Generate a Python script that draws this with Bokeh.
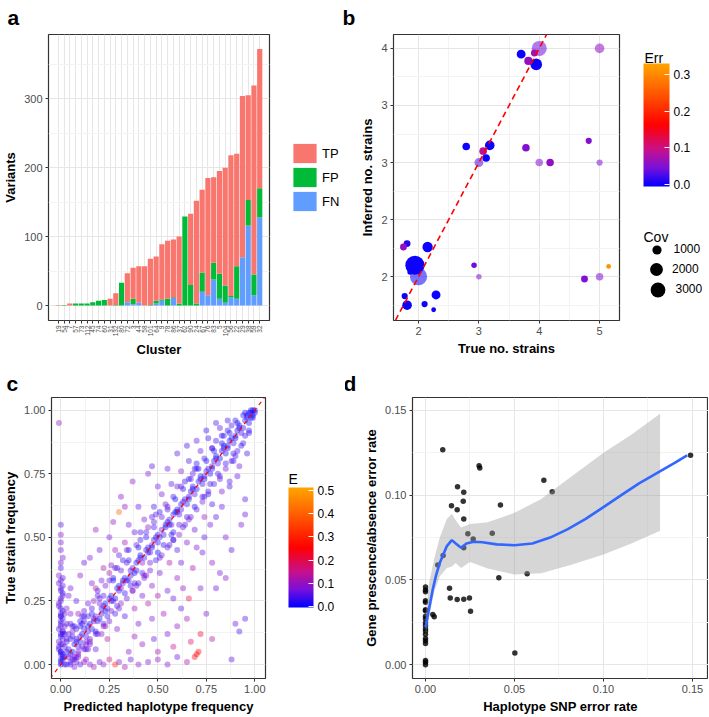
import math
from bokeh.plotting import figure
from bokeh.models import (FactorRange, Range1d, FixedTicker, Legend, LegendItem, ColorBar,
                          LinearColorMapper, PrintfTickFormatter, Label, Slope, ColumnDataSource)
from bokeh.layouts import row, column
from bokeh.embed import file_html
from bokeh.resources import INLINE

FONT = "Liberation Sans"
NAN = float("nan")

# ---------------- Panel a data ----------------
clusters = ["19", "54", "7", "57", "73", "112", "45", "74", "60", "31", "132", "80", "72", "3",
            "44", "58", "101", "64", "9", "78", "86", "37", "62", "90", "24", "67", "76", "83",
            "5", "104", "56", "22", "29", "38", "59", "32"]
fn_vals = [0, 0, 0, 0, 0, 0, 0, 0, 0, 0, 0, 0, 5, 2, 4, 0, 0, 3, 7, 0, 11, 0, 0, 0, 0, 20,
           15, 38, 10, 4, 12, 10, 70, 116, 15, 128]
fp_vals = [0, 1, 0, 3, 3, 3, 5, 7, 8, 0, 1, 33, 0, 8, 0, 0, 1, 4, 2, 10, 1, 3, 129, 30, 3, 28,
           0, 24, 36, 25, 2, 47, 0, 37, 30, 42]
tp_vals = [1, 0, 3, 0, 0, 0, 0, 0, 0, 10, 17, 0, 42, 45, 53, 57, 67, 64, 80, 84, 84, 97, 0, 103,
           149, 120, 170, 124, 149, 171, 204, 163, 234, 152, 274, 202]
a_labels = ["TP", "FP", "FN"]

# ---------------- Panel b data ----------------
b_true = [4.0, 3.70, 3.82, 3.95, 3.92, 5.0, 3.18, 2.79, 3.07, 3.12, 3.0, 3.78, 4.0, 4.18, 4.82,
          5.0, 1.94, 2.0, 2.15, 1.81, 1.75, 1.86, 1.77, 1.81, 2.10, 2.29, 2.25, 2.92, 3.0, 4.75,
          5.0, 5.15]
b_inferred = [4.0, 3.95, 3.89, 3.86, 3.96, 4.0, 3.15, 3.14, 3.10, 3.04, 3.0, 3.13, 3.0, 3.0,
              3.19, 3.0, 2.10, 2.0, 2.26, 2.29, 2.26, 2.04, 1.83, 1.75, 1.76, 1.84, 1.71, 2.10,
              2.0, 1.98, 2.0, 2.09]
b_err = [0.04, 0.0, 0.06, 0.0, 0.07, 0.06, 0.0, 0.0, 0.09, 0.0, 0.03, 0.05, 0.05, 0.06, 0.05,
         0.05, 0.0, 0.0, 0.0, 0.01, 0.06, 0.0, 0.0, 0.0, 0.0, 0.0, 0.0, 0.04, 0.05, 0.05, 0.05,
         0.31]
b_cov = [2900, 1015, 865, 1740, 600, 1180, 1180, 730, 730, 730, 1015, 730, 730, 730, 487, 487,
         4700, 3750, 1350, 600, 600, 385, 487, 1180, 487, 1015, 295, 385, 385, 600, 730, 295]
b_y_ticks = [2, 2.5, 3, 3.5, 4]
b_y_tick_labels = ["2", "2", "3", "3", "4"]
cov_legend = [1000, 2000, 3000]

# ---------------- Panel c data ----------------
g1_x = [0.02, 0.05, 0.07, 0.09, 0.11, 0.13, 0.15, 0.16, 0.18, 0.20,
        0.22, 0.24, 0.26, 0.27, 0.29, 0.31, 0.33, 0.35, 0.37, 0.38,
        0.40, 0.42, 0.44, 0.46, 0.48, 0.50, 0.52, 0.53, 0.55, 0.57,
        0.59, 0.61, 0.63, 0.65, 0.67, 0.69, 0.71, 0.73, 0.75, 0.77,
        0.79, 0.81, 0.83, 0.85, 0.87, 0.89, 0.91, 0.93, 0.95, 0.97,
        0.98, 0.99, 1.00, 0.99, 0.97]
g1_y = [0.03, 0.04, 0.08, 0.07, 0.12, 0.11, 0.16, 0.14, 0.19, 0.18,
        0.23, 0.22, 0.27, 0.25, 0.30, 0.30, 0.34, 0.33, 0.38, 0.36,
        0.41, 0.40, 0.45, 0.44, 0.49, 0.48, 0.53, 0.51, 0.56, 0.55,
        0.60, 0.59, 0.64, 0.63, 0.68, 0.67, 0.72, 0.71, 0.76, 0.75,
        0.80, 0.79, 0.84, 0.83, 0.88, 0.87, 0.92, 0.91, 0.96, 0.95,
        0.99, 0.97, 1.00, 0.98, 0.99]
g1_e = [0.02, 0.03, 0.01, 0.04, 0.02, 0.05, 0.01, 0.03, 0.06, 0.02,
        0.04, 0.08, 0.02, 0.05, 0.03, 0.07, 0.02, 0.04, 0.06, 0.01,
        0.03, 0.09, 0.02, 0.05, 0.04, 0.02, 0.06, 0.03, 0.01, 0.05,
        0.02, 0.04, 0.07, 0.03, 0.01, 0.05, 0.02, 0.03, 0.04, 0.01,
        0.02, 0.06, 0.03, 0.01, 0.02, 0.04, 0.01, 0.03, 0.02, 0.01,
        0.01, 0.02, 0.00, 0.01, 0.02]
g2_x = [0.04, 0.08, 0.10, 0.14, 0.17, 0.21, 0.23, 0.26, 0.30, 0.32,
        0.36, 0.39, 0.41, 0.45, 0.47, 0.50, 0.54, 0.56, 0.60, 0.62,
        0.66, 0.68, 0.72, 0.74, 0.78, 0.80, 0.84, 0.86, 0.90, 0.92,
        0.96]
g2_y = [0.06, 0.10, 0.11, 0.15, 0.17, 0.20, 0.24, 0.25, 0.31, 0.32,
        0.35, 0.40, 0.42, 0.44, 0.47, 0.51, 0.54, 0.57, 0.60, 0.61,
        0.66, 0.70, 0.73, 0.74, 0.78, 0.81, 0.85, 0.86, 0.90, 0.93,
        0.97]
g2_e = [0.03, 0.01, 0.05, 0.02, 0.07, 0.03, 0.01, 0.04, 0.02, 0.06,
        0.03, 0.01, 0.05, 0.02, 0.08, 0.03, 0.01, 0.04, 0.02, 0.05,
        0.01, 0.03, 0.02, 0.04, 0.01, 0.03, 0.02, 0.01, 0.02, 0.01,
        0.01]
g3_x = [0.03, 0.06, 0.10, 0.12, 0.17, 0.19, 0.23, 0.25, 0.28, 0.32,
        0.34, 0.39, 0.41, 0.45, 0.47, 0.51, 0.54, 0.58, 0.60, 0.64,
        0.68, 0.70, 0.74, 0.78, 0.80, 0.84, 0.88, 0.90, 0.94]
g3_y = [0.09, 0.13, 0.17, 0.21, 0.25, 0.29, 0.31, 0.36, 0.38, 0.41,
        0.45, 0.47, 0.52, 0.54, 0.58, 0.60, 0.63, 0.66, 0.70, 0.72,
        0.75, 0.79, 0.81, 0.85, 0.88, 0.90, 0.94, 0.96, 0.98]
g3_e = [0.05, 0.08, 0.03, 0.06, 0.10, 0.04, 0.07, 0.12, 0.05, 0.03,
        0.08, 0.06, 0.04, 0.09, 0.05, 0.03, 0.07, 0.04, 0.06, 0.03,
        0.05, 0.02, 0.04, 0.06, 0.03, 0.02, 0.04, 0.03, 0.02]
g4_x = [0.08, 0.12, 0.15, 0.19, 0.22, 0.25, 0.28, 0.31, 0.34, 0.37,
        0.40, 0.43, 0.46, 0.49, 0.52, 0.55, 0.58, 0.61, 0.64, 0.67,
        0.70, 0.73, 0.76, 0.79, 0.82, 0.85, 0.88, 0.91, 0.94, 0.97]
g4_y = [0.03, 0.06, 0.09, 0.12, 0.15, 0.17, 0.20, 0.24, 0.26, 0.29,
        0.32, 0.35, 0.37, 0.41, 0.43, 0.46, 0.49, 0.51, 0.55, 0.58,
        0.61, 0.64, 0.67, 0.71, 0.74, 0.77, 0.80, 0.84, 0.87, 0.91]
g4_e = [0.06, 0.04, 0.09, 0.05, 0.12, 0.07, 0.04, 0.10, 0.06, 0.08,
        0.05, 0.11, 0.07, 0.04, 0.09, 0.06, 0.05, 0.08, 0.04, 0.06,
        0.05, 0.07, 0.03, 0.05, 0.04, 0.06, 0.03, 0.04, 0.05, 0.03]
g5_x = [0.02, 0.05, 0.09, 0.14, 0.18, 0.21, 0.26, 0.30, 0.33, 0.38,
        0.43, 0.48, 0.52, 0.57, 0.62, 0.66, 0.72, 0.76, 0.82, 0.86,
        0.13, 0.18, 0.24, 0.29, 0.33, 0.38, 0.42, 0.47, 0.51, 0.56,
        0.60, 0.65, 0.69, 0.74, 0.78, 0.83, 0.87, 0.92, 0.96]
g5_y = [0.12, 0.16, 0.20, 0.24, 0.30, 0.33, 0.39, 0.43, 0.48, 0.52,
        0.57, 0.62, 0.67, 0.71, 0.76, 0.80, 0.84, 0.89, 0.93, 0.96,
        0.02, 0.06, 0.10, 0.14, 0.19, 0.22, 0.27, 0.31, 0.36, 0.40,
        0.45, 0.48, 0.53, 0.58, 0.63, 0.68, 0.72, 0.78, 0.83]
g5_e = [0.08, 0.05, 0.10, 0.06, 0.12, 0.07, 0.09, 0.05, 0.11, 0.06,
        0.08, 0.04, 0.07, 0.05, 0.09, 0.04, 0.06, 0.03, 0.05, 0.04,
        0.10, 0.06, 0.13, 0.08, 0.05, 0.11, 0.07, 0.09, 0.06, 0.12,
        0.05, 0.08, 0.06, 0.10, 0.04, 0.07, 0.05, 0.06, 0.04]
g6_x = [0.00, 0.00, 0.01, -0.01, 0.00, 0.01, 0.00, -0.01, 0.00, 0.01,
        0.00, 0.00, -0.01, 0.00, 0.01, 0.00, 0.00, -0.01, 0.00, 0.01,
        0.00, 0.00, 0.00, -0.01, 0.02, 0.02, 0.03, 0.01, 0.04,
        0.00, 0.01, 0.00, -0.01, 0.00, 0.01, 0.00, 0.00, 0.01, 0.00]
g6_y = [0.00, 0.02, 0.04, 0.06, 0.08, 0.10, 0.12, 0.14, 0.16, 0.18,
        0.20, 0.22, 0.24, 0.26, 0.28, 0.30, 0.33, 0.35, 0.38, 0.42,
        0.45, 0.51, 0.55, 0.95, 0.07, 0.15, 0.22, 0.31, 0.27,
        0.01, 0.03, 0.05, 0.09, 0.11, 0.13, 0.17, 0.19, 0.21, 0.25]
g6_e = [0.01, 0.03, 0.02, 0.05, 0.03, 0.07, 0.02, 0.04, 0.06, 0.03,
        0.05, 0.02, 0.08, 0.04, 0.03, 0.06, 0.05, 0.09, 0.04, 0.07,
        0.06, 0.08, 0.05, 0.10, 0.04, 0.06, 0.08, 0.05, 0.07,
        0.02, 0.04, 0.03, 0.06, 0.02, 0.05, 0.03, 0.07, 0.04, 0.05]
g7_x = [0.03, 0.05, 0.07, 0.10, 0.12, 0.15, 0.17, 0.20, 0.22, 0.25,
        0.28, 0.30, 0.33, 0.36, 0.40, 0.45, 0.50, 0.55, 0.60, 0.65,
        0.88]
g7_y = [0.00, 0.01, -0.01, 0.00, 0.01, 0.00, -0.01, 0.01, 0.00, 0.02,
        0.00, 0.01, -0.01, 0.02, 0.00, 0.01, 0.02, 0.00, 0.03, 0.01,
        0.02]
g7_e = [0.04, 0.06, 0.08, 0.05, 0.10, 0.07, 0.12, 0.06, 0.09, 0.15,
        0.30, 0.08, 0.11, 0.06, 0.09, 0.07, 0.10, 0.08, 0.06, 0.12,
        0.05]
g8_x = [0.35, 0.42, 0.48, 0.50, 0.55, 0.58, 0.60, 0.62, 0.65, 0.67,
        0.70, 0.71, 0.69, 0.72, 0.75, 0.78, 0.80, 0.82, 0.85, 0.88,
        0.90, 0.92, 0.95, 0.93, 0.95, 0.95, 0.85, 0.78, 0.72, 0.68,
        0.63, 0.58, 0.53, 0.47, 0.45, 0.40, 0.38, 0.62, 0.70, 0.74,
        0.77, 0.83, 0.87, 0.91, 0.60, 0.55, 0.50, 0.66, 0.73, 0.80]
g8_y = [0.05, 0.08, 0.10, 0.05, 0.12, 0.07, 0.15, 0.22, 0.18, 0.09,
        0.04, 0.05, 0.03, 0.12, 0.20, 0.10, 0.30, 0.36, 0.34, 0.45,
        0.16, 0.13, 0.18, 0.55, 0.59, 0.65, 0.50, 0.40, 0.30, 0.38,
        0.30, 0.26, 0.20, 0.18, 0.24, 0.16, 0.11, 0.40, 0.46, 0.50,
        0.55, 0.62, 0.70, 0.74, 0.34, 0.29, 0.27, 0.26, 0.44, 0.58]
g8_e = [0.08, 0.10, 0.06, 0.12, 0.07, 0.15, 0.09, 0.05, 0.11, 0.18,
        0.25, 0.26, 0.24, 0.22, 0.08, 0.12, 0.06, 0.07, 0.09, 0.05,
        0.06, 0.04, 0.05, 0.07, 0.06, 0.05, 0.08, 0.10, 0.07, 0.12,
        0.09, 0.06, 0.11, 0.08, 0.13, 0.07, 0.10, 0.06, 0.08, 0.05,
        0.07, 0.06, 0.04, 0.05, 0.09, 0.07, 0.12, 0.20, 0.06, 0.05]
g9_x = [0.05, 0.08, 0.10, 0.12, 0.15, 0.18, 0.20, 0.22, 0.25, 0.27,
        0.30, 0.31, 0.33, 0.37, 0.35, 0.40, 0.45, 0.47, 0.50, 0.55,
        0.60, 0.65, 0.70, 0.75, 0.80, 0.28, 0.16]
g9_y = [0.30, 0.25, 0.35, 0.40, 0.42, 0.53, 0.45, 0.38, 0.50, 0.56,
        0.60, 0.66, 0.62, 0.72, 0.55, 0.62, 0.75, 0.78, 0.70, 0.77,
        0.83, 0.86, 0.88, 0.92, 0.95, 0.45, 0.32]
g9_e = [0.07, 0.05, 0.09, 0.06, 0.08, 0.10, 0.06, 0.12, 0.07, 0.09,
        0.40, 0.08, 0.10, 0.09, 0.07, 0.06, 0.08, 0.05, 0.07, 0.06,
        0.05, 0.04, 0.06, 0.03, 0.04, 0.11, 0.08]
g10_x = [0.01, 0.03, 0.06, 0.08, 0.10, 0.12, 0.14, 0.17, 0.19, 0.21,
         0.23, 0.25, 0.28, 0.30, 0.32, 0.34, 0.36, 0.39, 0.41, 0.43,
         0.45, 0.47, 0.49, 0.51, 0.54, 0.56, 0.58, 0.60, 0.62, 0.64,
         0.66, 0.68, 0.70, 0.72, 0.74, 0.76, 0.78, 0.80, 0.82, 0.84,
         0.86, 0.88, 0.90, 0.92, 0.94, 0.96, 0.98, 1.00, 0.99, 0.98]
g10_y = [0.02, 0.05, 0.05, 0.09, 0.09, 0.14, 0.13, 0.18, 0.17, 0.22,
         0.21, 0.26, 0.26, 0.29, 0.33, 0.33, 0.37, 0.37, 0.43, 0.42,
         0.46, 0.46, 0.50, 0.50, 0.55, 0.55, 0.59, 0.61, 0.63, 0.65,
         0.65, 0.69, 0.69, 0.74, 0.73, 0.77, 0.77, 0.82, 0.81, 0.86,
         0.85, 0.89, 0.89, 0.94, 0.93, 0.98, 0.97, 0.99, 1.00, 1.00]
g10_e = [0.01, 0.02, 0.00, 0.03, 0.01, 0.02, 0.04, 0.01, 0.02, 0.03,
         0.00, 0.02, 0.01, 0.03, 0.02, 0.01, 0.04, 0.02, 0.01, 0.03,
         0.02, 0.00, 0.01, 0.03, 0.02, 0.01, 0.02, 0.00, 0.03, 0.01,
         0.02, 0.01, 0.00, 0.02, 0.01, 0.03, 0.02, 0.01, 0.00, 0.02,
         0.01, 0.02, 0.00, 0.01, 0.02, 0.01, 0.00, 0.01, 0.00, 0.01]
g11_x = [0.00, 0.01, 0.02, 0.03, 0.04, 0.05, 0.06, 0.07, 0.08, 0.09,
         0.10, 0.11, 0.12, 0.13, 0.14, 0.15, 0.16, 0.18, 0.20, 0.22,
         0.01, 0.03, 0.05, 0.07, 0.09, 0.11, 0.13, 0.02, 0.04, 0.06]
g11_y = [0.05, 0.08, 0.00, 0.10, 0.03, 0.00, 0.11, 0.03, 0.14, 0.05,
         0.15, 0.07, 0.17, 0.09, 0.19, 0.10, 0.20, 0.12, 0.24, 0.16,
         0.13, 0.16, 0.20, 0.15, 0.04, 0.19, 0.06, 0.20, 0.12, 0.02]
g11_e = [0.03, 0.05, 0.02, 0.04, 0.06, 0.03, 0.05, 0.08, 0.04, 0.07,
         0.03, 0.06, 0.05, 0.09, 0.04, 0.06, 0.03, 0.05, 0.07, 0.04,
         0.06, 0.05, 0.08, 0.03, 0.10, 0.05, 0.07, 0.06, 0.04, 0.05]
g12_x = [0.00, -0.01, 0.01, 0.00, 0.00, -0.01, 0.01, 0.00, 0.01, 0.00,
         0.00, -0.01]
g12_y = [0.04, 0.07, 0.12, 0.15, 0.19, 0.23, 0.27, 0.29, 0.34, 0.40,
         0.48, 0.32]
g12_e = [0.02, 0.04, 0.03, 0.05, 0.02, 0.04, 0.06, 0.03, 0.05, 0.07,
         0.08, 0.06]
g13_x = [0.05, 0.07, 0.11, 0.13, 0.16, 0.18, 0.22, 0.24, 0.27, 0.29,
         0.31, 0.33, 0.35, 0.38, 0.40, 0.42, 0.44, 0.46, 0.48, 0.50,
         0.52, 0.53, 0.55, 0.57, 0.59, 0.61, 0.63, 0.65, 0.67, 0.69,
         0.71, 0.73, 0.75, 0.77, 0.79, 0.81, 0.83, 0.85, 0.87, 0.89,
         0.91, 0.93, 0.95, 0.97, 0.20, 0.26, 0.36, 0.44, 0.58, 0.66]
g13_y = [0.10, 0.02, 0.16, 0.08, 0.22, 0.13, 0.27, 0.19, 0.33, 0.23,
         0.37, 0.28, 0.41, 0.32, 0.46, 0.36, 0.50, 0.40, 0.54, 0.44,
         0.58, 0.47, 0.61, 0.51, 0.65, 0.55, 0.69, 0.58, 0.73, 0.62,
         0.77, 0.66, 0.80, 0.71, 0.84, 0.75, 0.87, 0.79, 0.91, 0.83,
         0.95, 0.86, 0.99, 0.92, 0.26, 0.21, 0.31, 0.52, 0.52, 0.73]
g13_e = [0.03, 0.05, 0.02, 0.06, 0.04, 0.02, 0.05, 0.03, 0.01, 0.04,
         0.06, 0.02, 0.03, 0.05, 0.01, 0.04, 0.02, 0.06, 0.03, 0.01,
         0.05, 0.02, 0.04, 0.03, 0.01, 0.05, 0.02, 0.04, 0.03, 0.01,
         0.02, 0.04, 0.01, 0.03, 0.02, 0.05, 0.01, 0.03, 0.02, 0.04,
         0.01, 0.02, 0.01, 0.02, 0.04, 0.06, 0.03, 0.05, 0.02, 0.04]
g14_x = [0.06, 0.09, 0.12, 0.15, 0.19, 0.23, 0.27, 0.30, 0.34, 0.37,
         0.41, 0.44, 0.48, 0.51, 0.55, 0.58, 0.62, 0.66, 0.70, 0.74,
         0.78, 0.82, 0.86, 0.90, 0.08, 0.14, 0.21, 0.29, 0.35, 0.43,
         0.49, 0.56, 0.63, 0.69, 0.76, 0.83, 0.89, 0.95, 0.25, 0.39]
g14_y = [0.15, 0.03, 0.19, 0.08, 0.27, 0.15, 0.34, 0.22, 0.40, 0.29,
         0.49, 0.35, 0.56, 0.42, 0.62, 0.49, 0.70, 0.57, 0.77, 0.66,
         0.85, 0.73, 0.92, 0.82, 0.01, 0.06, 0.12, 0.38, 0.45, 0.34,
         0.59, 0.47, 0.54, 0.77, 0.68, 0.90, 0.80, 0.90, 0.33, 0.31]
g14_e = [0.04, 0.07, 0.03, 0.06, 0.05, 0.08, 0.02, 0.06, 0.04, 0.09,
         0.03, 0.07, 0.05, 0.04, 0.06, 0.03, 0.05, 0.07, 0.02, 0.04,
         0.03, 0.05, 0.02, 0.03, 0.06, 0.05, 0.08, 0.04, 0.03, 0.07,
         0.05, 0.04, 0.06, 0.03, 0.05, 0.02, 0.04, 0.03, 0.06, 0.05]
c_pred = (g1_x + g2_x + g3_x + g4_x + g5_x + g6_x + g7_x + g8_x + g9_x + g10_x + g11_x
          + g12_x + g13_x + g14_x)
c_true = (g1_y + g2_y + g3_y + g4_y + g5_y + g6_y + g7_y + g8_y + g9_y + g10_y + g11_y
          + g12_y + g13_y + g14_y)
c_E = (g1_e + g2_e + g3_e + g4_e + g5_e + g6_e + g7_e + g8_e + g9_e + g10_e + g11_e
       + g12_e + g13_e + g14_e)

# ---------------- Panel d data ----------------
d_snp = [0.0097, 0.018, 0.0146, 0.0178, 0.0215, 0.0212, 0.0215, 0.0238, 0.0215, 0.0268,
         0.0301, 0.0305, 0.0375, 0.0421, 0.0412, 0.0571, 0.0502, 0.0665, 0.0712, 0.1489,
         0.0099, 0.0069, 0.0135, 0.0139, 0.0178, 0.0215, 0.0247, 0.0253, 0.0049, 0.0041,
         0.0, 0.0, 0.0, 0.0, 0.0, 0.0, 0.0, 0.0, 0.0, 0.0,
         0.0, 0.0, 0.0, 0.0, 0.0, 0.0, 0.0, 0.0, 0.0, 0.0]
d_gene = [0.1268, 0.105, 0.0937, 0.0914, 0.1018, 0.0964, 0.0859, 0.0772, 0.069, 0.0741,
          0.1173, 0.1161, 0.0776, 0.0942, 0.0513, 0.0536, 0.007, 0.1088, 0.102, 0.1235,
          0.0644, 0.0588, 0.0451, 0.0393, 0.0385, 0.0387, 0.0393, 0.0315, 0.0283, 0.0296,
          0.0459, 0.0441, 0.0430, 0.0377, 0.0368, 0.0325, 0.0319, 0.0286, 0.0271, 0.0248,
          0.0232, 0.0213, 0.0199, 0.0180, 0.0155, 0.0141, 0.0126, 0.0025, 0.0015, 0.0]
fit_x = [0.0, 0.002, 0.004, 0.006, 0.008, 0.010, 0.012, 0.0148, 0.017, 0.020, 0.023, 0.027,
         0.032, 0.04, 0.05, 0.06, 0.07, 0.08, 0.09, 0.10, 0.11, 0.12, 0.13, 0.14, 0.147]
fit_y = [0.022, 0.033, 0.044, 0.053, 0.060, 0.065, 0.070, 0.0735, 0.0715, 0.069, 0.0715,
         0.0725, 0.0722, 0.071, 0.0705, 0.0715, 0.075, 0.080, 0.086, 0.093, 0.100, 0.107,
         0.113, 0.119, 0.1235]
band_x = [0.0, 0.002, 0.005, 0.008, 0.012, 0.0148, 0.017, 0.020, 0.025, 0.035, 0.05, 0.065,
          0.082, 0.10, 0.116, 0.1318]
band_hi = [0.030, 0.048, 0.063, 0.075, 0.086, 0.089, 0.085, 0.081, 0.083, 0.084, 0.0896,
           0.0977, 0.111, 0.125, 0.136, 0.148]
band_lo = [0.016, 0.028, 0.0435, 0.052, 0.057, 0.058, 0.060, 0.057, 0.0606, 0.0567, 0.0532,
           0.054, 0.059, 0.065, 0.0716, 0.079]


# ---------------- helpers ----------------
def make_palette(stops, n=256):
    out = []
    for i in range(n):
        t = i / (n - 1)
        for (t0, c0), (t1, c1) in zip(stops[:-1], stops[1:]):
            if t0 <= t <= t1:
                f = (t - t0) / (t1 - t0)
                rgb = tuple(int(round(a + (b - a) * f)) for a, b in zip(c0, c1))
                out.append("#%02x%02x%02x" % rgb)
                break
    return out


PAL = make_palette([(0.0, (0, 0, 255)), (0.15, (122, 16, 218)), (0.30, (200, 16, 138)),
                    (0.5, (255, 0, 0)), (0.75, (255, 85, 0)), (1.0, (255, 165, 0))])


def style(p):
    p.background_fill_color = "white"
    p.border_fill_color = "white"
    p.outline_line_color = "#333333"
    p.outline_line_width = 1.2
    for ax in p.axis:
        ax.axis_line_color = None
        ax.major_tick_line_color = "#333333"
        ax.major_tick_out = 3
        ax.major_tick_in = 0
        ax.minor_tick_line_color = None
        ax.major_label_text_color = "#4D4D4D"
        ax.major_label_text_font_size = "11px"
        ax.major_label_text_font = FONT
        ax.major_label_standoff = 2
        ax.axis_label_text_font = FONT
        ax.axis_label_text_font_size = "13px"
        ax.axis_label_text_font_style = "bold"
        ax.axis_label_text_color = "black"
        ax.axis_label_standoff = 3
    for g in p.grid:
        g.grid_line_color = "#E6E6E6"
        g.minor_grid_line_color = "#F3F3F3"


def letter(p, text, offset, standoff):
    p.title.text = text
    p.title.align = "left"
    p.title.offset = offset
    p.title.vertical_align = "top"
    p.title.standoff = standoff
    p.title.text_font = FONT
    p.title.text_font_size = "21px"
    p.title.text_font_style = "bold"
    p.title.text_color = "black"


def legend_fig(width, height):
    f = figure(width=width, height=height, output_backend="svg", toolbar_location=None,
               x_axis_type=None, y_axis_type=None, min_border=0,
               x_range=Range1d(0, 1), y_range=Range1d(0, 1))
    f.outline_line_color = None
    f.background_fill_color = "white"
    f.border_fill_color = "white"
    f.grid.visible = False
    return f


def colorbar(mapper, ticks, loc, w, h):
    return ColorBar(color_mapper=mapper, location=loc, orientation="vertical", width=w, height=h,
                    padding=0, title=None,
                    ticker=FixedTicker(ticks=ticks), formatter=PrintfTickFormatter(format="%.1f"),
                    major_label_text_font=FONT, major_label_text_font_size="12px",
                    major_label_text_color="black", label_standoff=4,
                    major_tick_line_color="white", major_tick_in=5, major_tick_out=0,
                    minor_tick_line_color=None, bar_line_color=None, border_line_color=None,
                    background_fill_alpha=0)


def title_label(text, x, y):
    return Label(x=x, y=y, x_units="screen", y_units="screen", text=text, text_font=FONT,
                 text_font_size="14px", text_color="black", text_baseline="alphabetic")


# ---------------- Panel a ----------------
pa = figure(width=279, height=360, output_backend="svg", toolbar_location=None, title="a",
            x_range=FactorRange(factors=clusters, range_padding=1.2, range_padding_units="absolute"),
            y_range=Range1d(-21.6, 393),
            min_border_left=46, min_border_right=10, min_border_top=34, min_border_bottom=39)
src_a = ColumnDataSource(dict(cluster=clusters, FN=fn_vals, FP=fp_vals, TP=tp_vals))
pa.vbar_stack(["FN", "FP", "TP"], x="cluster", width=0.9, source=src_a,
              fill_color=["#619CFF", "#00BA38", "#F8766D"], line_color=None)
style(pa)
pa.yaxis.ticker = FixedTicker(ticks=[0, 100, 200, 300], minor_ticks=[50, 150, 250, 350])
pa.xaxis.major_label_orientation = math.pi / 2
pa.xaxis.major_label_text_font_size = "6.5px"
pa.xaxis.axis_label = "Cluster"
pa.yaxis.axis_label = "Variants"
letter(pa, "a", -41, 8)

# legend of panel a (own canvas; its frame is aligned with the row: y 34..321)
pla = legend_fig(61, 360)
a_items = []
for lab, col in zip(a_labels, ["#F8766D", "#00BA38", "#619CFF"]):
    r = pla.vbar(x=[NAN], top=[NAN], width=0.9, fill_color=col, line_color=None)
    a_items.append(LegendItem(label=lab, renderers=[r]))
pla.add_layout(Legend(items=a_items, location=(11, 107), glyph_width=29, glyph_height=24,
                      label_height=24, spacing=0, padding=0, margin=0, label_standoff=3,
                      border_line_color=None, background_fill_alpha=0, label_text_font=FONT,
                      label_text_font_size="13px", label_text_color="black"))

# ---------------- Panel b ----------------
pb = figure(width=300, height=360, output_backend="svg", toolbar_location=None, title="b",
            x_range=Range1d(1.585, 5.33), y_range=Range1d(1.616, 4.122),
            min_border_left=53, min_border_right=21, min_border_top=34, min_border_bottom=39)
mapper_b = LinearColorMapper(palette=PAL, low=-0.006, high=0.33)
b_alpha = [0.55 if (float(x).is_integer() and float(y).is_integer()) else 1.0
           for x, y in zip(b_true, b_inferred)]
src_b = ColumnDataSource(dict(x=b_true, y=b_inferred, err=b_err,
                              size=[0.28 * math.sqrt(c) for c in b_cov], alpha=b_alpha))
pb.scatter("x", "y", size="size", source=src_b, marker="circle",
           fill_color={"field": "err", "transform": mapper_b}, fill_alpha="alpha",
           line_color=None)
pb.add_layout(Slope(gradient=1, y_intercept=0, line_color="red", line_dash="6 4",
                    line_width=1.6))
style(pb)
pb.xaxis.ticker = FixedTicker(ticks=[2, 3, 4, 5], minor_ticks=[2.5, 3.5, 4.5])
pb.yaxis.ticker = FixedTicker(ticks=b_y_ticks, minor_ticks=[1.75, 2.25, 2.75, 3.25, 3.75])
pb.yaxis.major_label_overrides = {float(t): s for t, s in zip(b_y_ticks, b_y_tick_labels)}
pb.xaxis.axis_label = "True no. strains"
pb.yaxis.axis_label = "Inferred no. strains"
letter(pb, "b", -51, 8)

# legends of panel b (own canvas; frame y 34..321)
plb = legend_fig(68, 360)
plb.add_layout(colorbar(mapper_b, [0, 0.1, 0.2, 0.3], (3, 134), 26, 123))
plb.add_layout(title_label("Err", 4, 263))
plb.add_layout(title_label("Cov", 3, 84))
cov_glyph = [23, 32, 37]
cov_standoff = [6, 0, -2]
cov_loc = [(4.5, 59.5), (0, 35), (-1.5, 12.5)]
for i, cv in enumerate(cov_legend):
    r = plb.scatter(x=[NAN], y=[NAN], marker="circle", fill_color="black", line_color=None)
    plb.add_layout(Legend(items=[LegendItem(label=str(cv), renderers=[r])], location=cov_loc[i],
                          glyph_width=cov_glyph[i], glyph_height=cov_glyph[i],
                          label_height=cov_glyph[i], label_standoff=cov_standoff[i], padding=0,
                          margin=0, spacing=0, border_line_color=None, background_fill_alpha=0,
                          label_text_font=FONT, label_text_font_size="12px",
                          label_text_color="black"))

# ---------------- Panel c ----------------
pc = figure(width=275, height=356, output_backend="svg", toolbar_location=None, title="c",
            x_range=Range1d(-0.048, 1.055), y_range=Range1d(-0.055, 1.05),
            min_border_left=50, min_border_right=10, min_border_top=37, min_border_bottom=34)
mapper_c = LinearColorMapper(palette=PAL, low=-0.004, high=0.513)
src_c = ColumnDataSource(dict(x=c_pred, y=c_true, e=c_E))
pc.scatter("x", "y", source=src_c, marker="circle", size=6,
           fill_color={"field": "e", "transform": mapper_c}, fill_alpha=0.4, line_color=None)
pc.add_layout(Slope(gradient=1, y_intercept=0, line_color="red", line_dash="4 4",
                    line_width=1.2))
style(pc)
for ax in (pc.xaxis, pc.yaxis):
    ax.ticker = FixedTicker(ticks=[0, 0.25, 0.5, 0.75, 1.0],
                            minor_ticks=[0.125, 0.375, 0.625, 0.875])
    ax.formatter = PrintfTickFormatter(format="%.2f")
pc.xaxis.axis_label = "Predicted haplotype frequency"
pc.yaxis.axis_label = "True strain frequency"
letter(pc, "c", -45, 2)

# legend of panel c (own canvas; frame y 397..682)
plc = legend_fig(70, 356)
plc.add_layout(colorbar(mapper_c, [0, 0.1, 0.2, 0.3, 0.4, 0.5], (13, 71), 25, 120))
plc.add_layout(title_label("E", 13, 200))

# ---------------- Panel d ----------------
pd_ = figure(width=363, height=356, output_backend="svg", toolbar_location=None, title="d",
             x_range=Range1d(-0.0073, 0.159), y_range=Range1d(-0.0081, 0.1576),
             min_border_left=67, min_border_right=0, min_border_top=37, min_border_bottom=34)
pd_.scatter(d_snp, d_gene, marker="circle", size=5.5, fill_color="black", fill_alpha=0.8,
            line_color=None)
pd_.varea(x=band_x, y1=band_lo, y2=band_hi, fill_color="#999999", fill_alpha=0.4)
pd_.line(fit_x, fit_y, line_color="#3366FF", line_width=2.6)
style(pd_)
for ax in (pd_.xaxis, pd_.yaxis):
    ax.ticker = FixedTicker(ticks=[0, 0.05, 0.10, 0.15], minor_ticks=[0.025, 0.075, 0.125])
    ax.formatter = PrintfTickFormatter(format="%.2f")
pd_.xaxis.axis_label = "Haplotype SNP error rate"
pd_.yaxis.axis_label = "Gene prescence/absence error rate"
letter(pd_, "d", -69, 2)

layout = column(row(pa, pla, pb, plb), row(pc, plc, pd_))
open("out.html", "w").write(file_html(layout, INLINE))
